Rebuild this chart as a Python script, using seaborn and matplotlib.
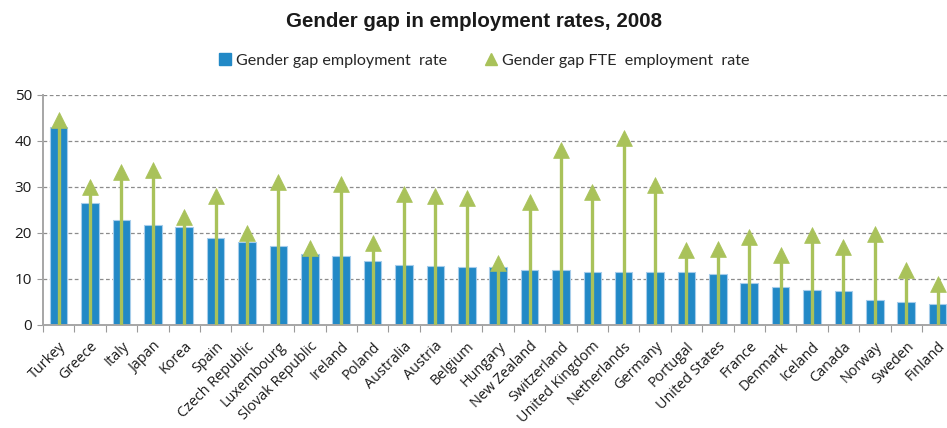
import matplotlib
matplotlib.use("Agg")
import matplotlib.pyplot as plt
from matplotlib.lines import Line2D
from matplotlib.ticker import FixedLocator
import seaborn as sns
import pandas as pd

countries = ["Turkey", "Greece", "Italy", "Japan", "Korea", "Spain", "Czech Republic",
             "Luxembourg", "Slovak Republic", "Ireland", "Poland", "Australia", "Austria",
             "Belgium", "Hungary", "New Zealand", "Switzerland", "United Kingdom",
             "Netherlands", "Germany", "Portugal", "United States", "France", "Denmark",
             "Iceland", "Canada", "Norway", "Sweden", "Finland"]
gap_employment = [43.0, 26.5, 22.9, 21.8, 21.3, 18.8, 18.0, 17.1, 15.5, 15.0, 13.9, 13.0,
                  12.8, 12.5, 12.5, 11.9, 11.9, 11.6, 11.6, 11.6, 11.6, 11.1, 9.2, 8.2,
                  7.6, 7.3, 5.4, 5.1, 4.6]
gap_fte = [44.6, 29.9, 33.2, 33.6, 23.4, 27.9, 20.0, 31.0, 16.7, 30.7, 17.9, 28.5, 28.1,
           27.5, 13.5, 26.8, 37.9, 28.9, 40.5, 30.3, 16.3, 16.4, 19.2, 15.1, 19.5, 17.0,
           19.7, 11.9, 9.0]
y_ticks = [0, 10, 20, 30, 40, 50]

BLUE = "#2289C6"
BLUE_EDGE = "#A6CDEB"
GREEN = "#A9C25A"
GRID = "#8C8C8C"

df = pd.DataFrame({"country": countries, "emp": gap_employment, "fte": gap_fte})
df["pos"] = range(len(df))

sns.set_theme(style="white")
plt.rcParams["font.family"] = ["Open Sans", "DejaVu Sans"]

fig = plt.figure(figsize=(9.47, 4.28), dpi=100)
ax = fig.add_axes([43 / 947, 103 / 428, 904 / 947, (325 - 94.7) / 428])

sns.barplot(data=df, x="country", y="emp", order=countries, color=BLUE,
            width=0.56, edgecolor=BLUE_EDGE, linewidth=0.8, saturation=1, ax=ax, zorder=2)

# FTE gap: a stem from zero up to a triangle marker
ax.vlines(df["pos"], 0, df["fte"], color=GREEN, linewidth=2.4, zorder=3)
sns.scatterplot(data=df, x="pos", y="fte", marker="^", s=130, color=GREEN,
                edgecolor=GREEN, linewidth=0.5, ax=ax, zorder=4, legend=False)

ax.set_xlim(-0.5, 28.3)
ax.set_ylim(0, 50)
ax.set_yticks(y_ticks)
ax.set_xticks(range(len(countries)))
ax.set_xticklabels(countries, rotation=45, ha="right", rotation_mode="anchor",
                   fontsize=10.4, color="#1A1A1A")
ax.xaxis.set_minor_locator(FixedLocator([i - 0.5 for i in range(len(countries) + 1)]))
ax.tick_params(axis="x", which="major", length=0, pad=10)
ax.tick_params(axis="x", which="minor", length=5, width=0.8, color="#9A9A9A", bottom=True)
ax.tick_params(axis="y", length=4, width=0.8, color="#9A9A9A", labelsize=11,
               labelcolor="#1A1A1A", pad=4, left=True)
ax.set_xlabel("")
ax.set_ylabel("")

ax.yaxis.grid(True, linestyle=(0, (3, 2)), color=GRID, linewidth=0.9)
ax.set_axisbelow(True)
for side in ["top", "right"]:
    ax.spines[side].set_visible(False)
for side in ["left", "bottom"]:
    ax.spines[side].set_color("#A6A6A6")
    ax.spines[side].set_linewidth(1.4)

fig.text(0.5, 0.950, "Gender gap in employment rates, 2008", ha="center", va="center",
         fontsize=14.8, fontweight="bold", family=["Liberation Sans", "DejaVu Sans"],
         color="#1A1A1A")

handles = [
    Line2D([], [], marker="s", linestyle="none", markersize=8, color=BLUE),
    Line2D([], [], marker="^", linestyle="none", markersize=9, color=GREEN),
]
fig.legend(handles, ["Gender gap employment  rate", "Gender gap FTE  employment  rate"],
           loc="center", bbox_to_anchor=(0.51, 0.858), ncol=2, frameon=False,
           prop={"family": ["Lato", "DejaVu Sans"], "size": 11.6},
           handletextpad=0.2, columnspacing=2.2, handlelength=1.0)

fig.savefig("out.png", dpi=100)
